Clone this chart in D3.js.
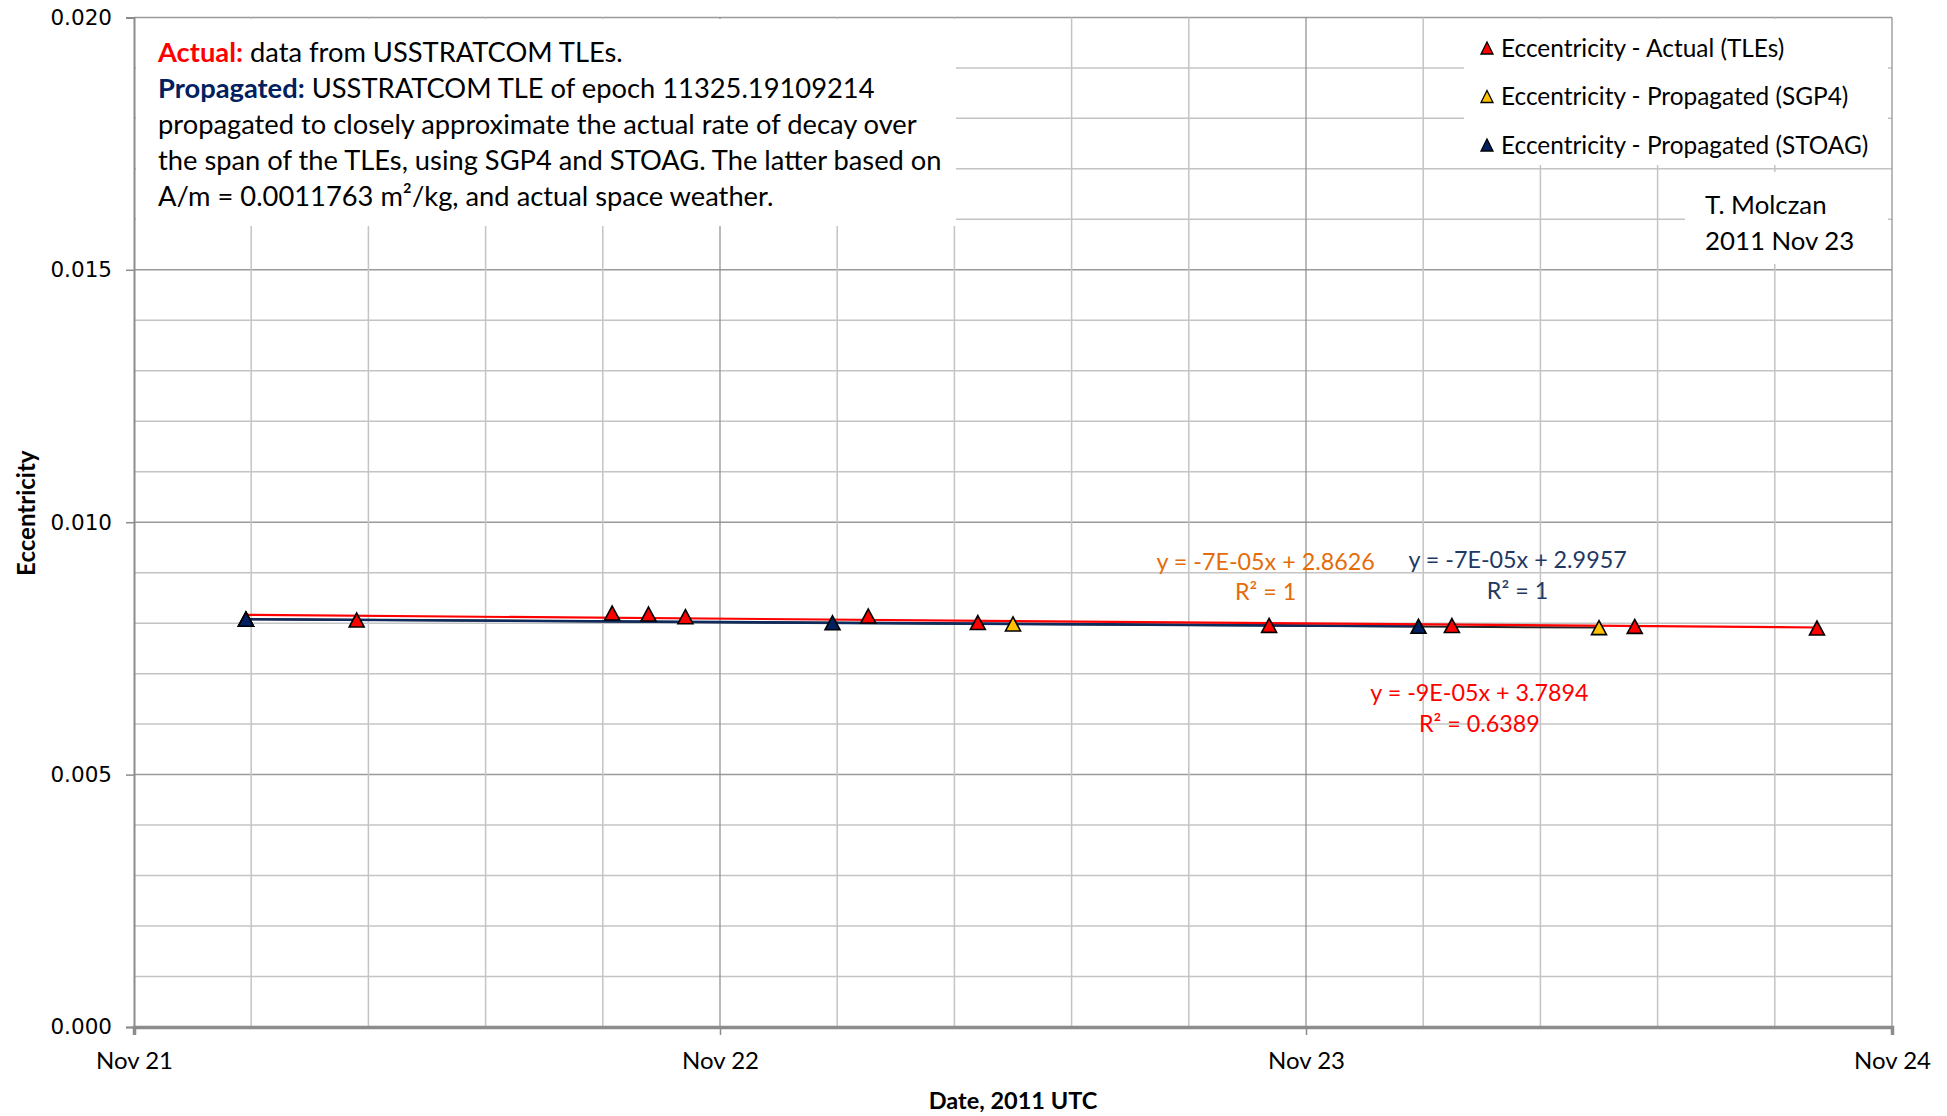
<!DOCTYPE html>
<html>
<head>
<meta charset="utf-8">
<script src="https://cdn.jsdelivr.net/npm/d3@7"></script>
<style>
  html, body { margin: 0; padding: 0; background: #fff; }
  svg { display: block; }
</style>
</head>
<body>
<svg id="chart" width="1947" height="1116"></svg>
<script>
// ---------------- DATA ----------------
// times are days after 2011 Nov 21 00:00 UTC
const actualDays   = [0.191, 0.380, 0.816, 0.878, 0.941, 1.253, 1.440, 1.937, 2.249, 2.561, 2.872];
const actualEcc    = [0.008080, 0.008062, 0.008201, 0.008181, 0.008128, 0.008141, 0.008013, 0.007957, 0.007953, 0.007937, 0.007904];
const sgp4Days     = [0.191, 1.500, 2.500];
const sgp4Ecc      = [0.008078, 0.007984, 0.007912];
const stoagDays    = [0.191, 1.192, 2.192];
const stoagEcc     = [0.008078, 0.008008, 0.007938];
const yTicks       = [0.000, 0.005, 0.010, 0.015, 0.020];
const xTickLabels  = ["Nov 21", "Nov 22", "Nov 23", "Nov 24"];
const legendLabels = ["Eccentricity - Actual (TLEs)", "Eccentricity - Propagated (SGP4)", "Eccentricity - Propagated (STOAG)"];
const trendTexts   = [
  {eq: "y = -7E-05x + 2.8626", r2: "R² = 1"},
  {eq: "y = -7E-05x + 2.9957", r2: "R² = 1"},
  {eq: "y = -9E-05x + 3.7894", r2: "R² = 0.6389"}
];
const noteLines = [
  [{t: "Actual:", c: "#ff0000", b: true}, {t: " data from USSTRATCOM TLEs."}],
  [{t: "Propagated:", c: "#002060", b: true}, {t: " USSTRATCOM TLE of epoch 11325.19109214"}],
  [{t: "propagated to closely approximate the actual rate of decay over"}],
  [{t: "the span of the TLEs, using SGP4 and STOAG. The latter based on"}],
  [{t: "A/m = 0.0011763 m²/kg, and actual space weather."}]
];
const authorLines = ["T. Molczan", "2011 Nov 23"];

// ---------------- SETUP ----------------
const W = 1947, H = 1116;
const L = 134, R = 1892, T = 17.4, B = 1027;
const FONT = "Lato, 'Open Sans', sans-serif";
const t0 = Date.UTC(2011, 10, 21);
const dayMs = 86400000;
const toDate = d => new Date(t0 + d * dayMs);

const svg = d3.select("#chart");
svg.append("rect").attr("width", W).attr("height", H).attr("fill", "#fff");

const x = d3.scaleUtc().domain([toDate(0), toDate(3)]).range([L, R]);
const y = d3.scaleLinear().domain([0, 0.02]).range([B, T]);

const series = [
  {name: legendLabels[0], days: actualDays, ecc: actualEcc, fill: "#ff0000", trend: "#ff0000", tw: 2.2},
  {name: legendLabels[1], days: sgp4Days, ecc: sgp4Ecc, fill: "#ffc000", trend: "#222222", tw: 2},
  {name: legendLabels[2], days: stoagDays, ecc: stoagEcc, fill: "#002060", trend: "#0f2a5c", tw: 2.6}
];

// ---------------- GRID ----------------
const grid = svg.append("g");
const minorY = d3.range(1, 20).map(i => i / 1000).filter(v => Math.round(v * 1000) % 5 !== 0);
grid.selectAll("line.hmin").data(minorY).join("line")
  .attr("x1", L).attr("x2", R).attr("y1", d => y(d)).attr("y2", d => y(d))
  .attr("stroke", "#c4c4c4").attr("stroke-width", 1.5);
grid.selectAll("line.hmaj").data(yTicks.slice(1)).join("line")
  .attr("x1", L).attr("x2", R).attr("y1", d => y(d)).attr("y2", d => y(d))
  .attr("stroke", "#9a9a9a").attr("stroke-width", 1.5);

const minorX = d3.range(1, 15).filter(i => i % 5 !== 0).map(i => toDate(i * 0.2));
grid.selectAll("line.vmin").data(minorX).join("line")
  .attr("y1", T).attr("y2", B).attr("x1", d => x(d)).attr("x2", d => x(d))
  .attr("stroke", "#c4c4c4").attr("stroke-width", 1.5);
const majorX = [1, 2, 3].map(toDate);
grid.selectAll("line.vmaj").data(majorX).join("line")
  .attr("y1", T).attr("y2", B).attr("x1", d => x(d)).attr("x2", d => x(d))
  .attr("stroke", "#8c8c8c").attr("stroke-width", 1.2);

// ---------------- AXES ----------------
const yAxis = d3.axisLeft(y).tickValues(yTicks).tickFormat(d3.format(".3f")).tickSize(8).tickPadding(14);
const gy = svg.append("g").attr("transform", `translate(${L},0)`).call(yAxis);
gy.select(".domain").attr("stroke", "#8c8c8c").attr("stroke-width", 2);
gy.selectAll(".tick line").attr("stroke", "#8c8c8c").attr("stroke-width", 1.5);
gy.selectAll(".tick text").attr("font-family", "'DejaVu Sans', sans-serif").attr("font-size", 21.5).attr("fill", "#000");

const xAxis = d3.axisBottom(x).tickValues([0, 1, 2, 3].map(toDate))
  .tickFormat((d, i) => xTickLabels[i]).tickSize(8).tickPadding(17);
const gx = svg.append("g").attr("transform", `translate(0,${B})`).call(xAxis);
gx.select(".domain").attr("stroke", "#8c8c8c").attr("stroke-width", 3.5);
gx.selectAll(".tick line").attr("stroke", "#8c8c8c").attr("stroke-width", 1.5);
gx.selectAll(".tick text").attr("font-family", FONT).attr("font-size", 24).attr("fill", "#000");

svg.append("text").attr("x", (L + R) / 2).attr("y", 1101).attr("dy", "0.35em")
  .attr("text-anchor", "middle").attr("font-family", FONT).attr("font-weight", "bold")
  .attr("font-size", 23.5).text("Date, 2011 UTC");
svg.append("text").attr("transform", `translate(27,${(T + B) / 2 - 9}) rotate(-90)`).attr("dy", "0.35em")
  .attr("text-anchor", "middle").attr("font-family", FONT).attr("font-weight", "bold")
  .attr("font-size", 24).text("Eccentricity");

// ---------------- BOXES ----------------
// note box
svg.append("rect").attr("x", 136).attr("y", 19).attr("width", 820).attr("height", 207).attr("fill", "#fff");
const note = svg.append("g");
noteLines.forEach((parts, i) => {
  const tx = note.append("text").attr("x", 158).attr("y", 52 + i * 36).attr("dy", "0.35em")
    .attr("font-family", FONT).attr("font-size", 27.3).attr("fill", "#000");
  parts.forEach(p => {
    tx.append("tspan").attr("fill", p.c || "#000").attr("font-weight", p.b ? "bold" : "normal")
      .attr("xml:space", "preserve").style("white-space", "pre").text(p.t);
  });
});

// legend box
svg.append("rect").attr("x", 1464).attr("y", 19).attr("width", 424).attr("height", 146).attr("fill", "#fff");
const tri = "M0,-7L7.5,7L-7.5,7Z";
const lg = svg.append("g");
series.forEach((s, i) => {
  const cy = 48 + i * 48.5;
  lg.append("path").attr("d", "M0,-6L6,6L-6,6Z").attr("transform", `translate(1487,${cy})`)
    .attr("fill", s.fill).attr("stroke", "#000").attr("stroke-width", 1.3);
  lg.append("text").attr("x", 1501).attr("y", cy).attr("dy", "0.35em")
    .attr("font-family", FONT).attr("font-size", 24.4).attr("fill", "#000").text(s.name);
});

// author box
svg.append("rect").attr("x", 1685).attr("y", 172).attr("width", 203).attr("height", 92).attr("fill", "#fff");
authorLines.forEach((t, i) => {
  svg.append("text").attr("x", 1705).attr("y", 205 + i * 36).attr("dy", "0.35em")
    .attr("font-family", FONT).attr("font-size", 25.8).attr("fill", "#000").text(t);
});

// ---------------- TRENDLINES ----------------
function fit(xs, ys) {
  const n = xs.length, mx = d3.mean(xs), my = d3.mean(ys);
  let sxy = 0, sxx = 0;
  for (let i = 0; i < n; i++) { sxy += (xs[i] - mx) * (ys[i] - my); sxx += (xs[i] - mx) ** 2; }
  const m = sxy / sxx;
  return d => my + m * (d - mx);
}
const trendOrder = [1, 2, 0];
const tg = svg.append("g");
trendOrder.forEach(k => {
  const s = series[k];
  const f = fit(s.days, s.ecc);
  const d0 = d3.min(s.days), d1 = d3.max(s.days);
  tg.append("line")
    .attr("x1", x(toDate(d0))).attr("y1", y(f(d0)))
    .attr("x2", x(toDate(d1))).attr("y2", y(f(d1)))
    .attr("stroke", s.trend).attr("stroke-width", s.tw);
});

// ---------------- MARKERS ----------------
const mg = svg.append("g");
series.forEach(s => {
  mg.selectAll(null).data(s.days.map((d, i) => ({d, e: s.ecc[i]}))).join("path")
    .attr("d", tri)
    .attr("transform", p => `translate(${x(toDate(p.d))},${y(p.e)})`)
    .attr("fill", s.fill).attr("stroke", "#000").attr("stroke-width", 1.6);
});

// ---------------- TREND LABELS ----------------
const labelCols = ["#e46c0a", "#1f3864", "#ff0000"];
const labelPos = [
  {d: 1.931, v: 0.00922, v2: 0.00862},
  {d: 2.361, v: 0.00926, v2: 0.00865},
  {d: 2.296, v: 0.00662, v2: 0.00601}
];
trendTexts.forEach((t, i) => {
  const p = labelPos[i];
  svg.append("text").attr("x", x(toDate(p.d))).attr("y", y(p.v)).attr("dy", "0.35em")
    .attr("text-anchor", "middle").attr("font-family", FONT).attr("font-size", 23.3)
    .attr("fill", labelCols[i]).text(t.eq);
  svg.append("text").attr("x", x(toDate(p.d))).attr("y", y(p.v2)).attr("dy", "0.35em")
    .attr("text-anchor", "middle").attr("font-family", FONT).attr("font-size", 23.3)
    .attr("fill", labelCols[i]).text(t.r2);
});
</script>
</body>
</html>
